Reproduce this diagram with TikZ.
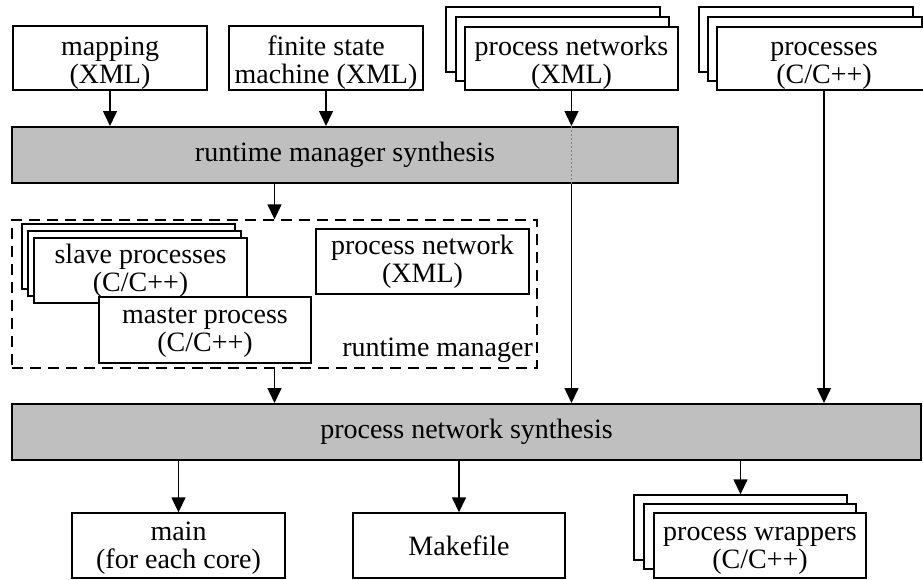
\documentclass[tikz,border=0pt]{standalone}
\usepackage{fontspec}
\setmainfont{Liberation Serif}
\usetikzlibrary{arrows.meta}
\definecolor{bargray}{RGB}{191,191,191}
\newcommand\myTa{\rule{0pt}{28pt}}
\newcommand\myTb{\rule{0pt}{23pt}}
\newcommand\myTc{\rule{0pt}{20pt}}
\newcommand\myBd{\rule[-6pt]{0pt}{6pt}}
\begin{document}
\begin{tikzpicture}[x=1pt,y=-1pt,
  lbl/.style={font=\fontsize{28}{28}\selectfont, align=center, inner sep=0pt},
  box/.style={lbl, draw, fill=white, line width=1.4pt},
  bar/.style={lbl, draw, fill=bargray, line width=2pt},
  arr/.style={line width=1.5pt, -{Triangle[length=15pt,width=14pt]}},
  dotline/.style={line width=1.4pt, gray, dash pattern=on 2pt off 2pt},
  dashbox/.style={draw, line width=1.4pt, dash pattern=on 11pt off 7pt, inner sep=0pt}
]
\useasboundingbox (0,0) rectangle (923,579);
\clip (0,0) rectangle (923,579);

% top inputs
\node[box, minimum width=194pt, minimum height=64pt] (map) at (110,58) {\myTa mapping\\(XML)\myBd};
\node[box, minimum width=194pt, minimum height=64pt] (fsm) at (326,58) {\myTa finite state\\machine (XML)\myBd};

\node[box, minimum width=214pt, minimum height=65pt] (pnb) at (553,39.5) {};
\node[box, minimum width=213pt, minimum height=64pt] (pnm) at (562.5,49) {};
\node[box, minimum width=213pt, minimum height=63pt] (pn) at (571.5,58.5) {\myTa process networks\\(XML)\myBd};

\node[box, minimum width=214pt, minimum height=65pt] (procb) at (806,39.5) {};
\node[box, minimum width=214pt, minimum height=64pt] (procm) at (815,49) {};
\node[box, minimum width=214pt, minimum height=63pt] (proc) at (824,58.5) {\myTa processes\\(C/C++)\myBd};

% runtime manager synthesis
\node[bar, minimum width=666pt, minimum height=56pt] (rms) at (345,155) {runtime manager synthesis};

% runtime manager group
\node[dashbox, minimum width=525pt, minimum height=148pt] (rm) at (274.5,294) {};
\node[box, minimum width=213pt, minimum height=65pt] (slb) at (128.5,256.5) {};
\node[box, minimum width=213pt, minimum height=65pt] (slm) at (134.5,263.5) {};
\node[box, minimum width=213pt, minimum height=65pt] (sl) at (140.5,270.5) {\myTc slave processes\\(C/C++)\myBd};
\node[box, minimum width=212pt, minimum height=66pt] (master) at (205,330) {\myTc master process\\(C/C++)\myBd};
\node[box, minimum width=213pt, minimum height=65pt] (pnet) at (422.5,261.5) {\myTc process network\\(XML)\myBd};
\node[lbl, anchor=east] (rmlabel) at (533,350) {runtime manager};

% process network synthesis
\node[bar, minimum width=909pt, minimum height=56pt] (pns) at (466.5,432) {process network synthesis};

% outputs
\node[box, minimum width=213pt, minimum height=65pt] (main) at (178.5,545.5) {\myTb main\\(for each core)\myBd};
\node[box, minimum width=212pt, minimum height=65pt] (make) at (459,545.5) {Makefile};
\node[box, minimum width=213pt, minimum height=65pt] (wrapb) at (740.5,527.5) {};
\node[box, minimum width=212pt, minimum height=65pt] (wrapm) at (750,536.5) {};
\node[box, minimum width=212pt, minimum height=65pt] (wrap) at (760,545.5) {\myTb process wrappers\\(C/C++)\myBd};

% connectors
\draw[arr] (map.south) -- (map.south |- rms.north);
\draw[arr] (fsm.south) -- (fsm.south |- rms.north);
\draw[arr] (pn.south) -- (pn.south |- rms.north);
\draw[dotline] (pn.south |- rms.north) -- (pn.south |- rms.south);
\draw[arr] (pn.south |- rms.south) -- (pn.south |- pns.north);
\draw[arr] (proc.south) -- (proc.south |- pns.north);
\draw[arr] (rm.north |- rms.south) -- (rm.north);
\draw[arr] (rm.south) -- (rm.south |- pns.north);
\draw[arr] (main.north |- pns.south) -- (main.north);
\draw[arr] (make.north |- pns.south) -- (make.north);
\draw[arr] (wrapb.north |- pns.south) -- (wrapb.north);
\end{tikzpicture}
\end{document}
